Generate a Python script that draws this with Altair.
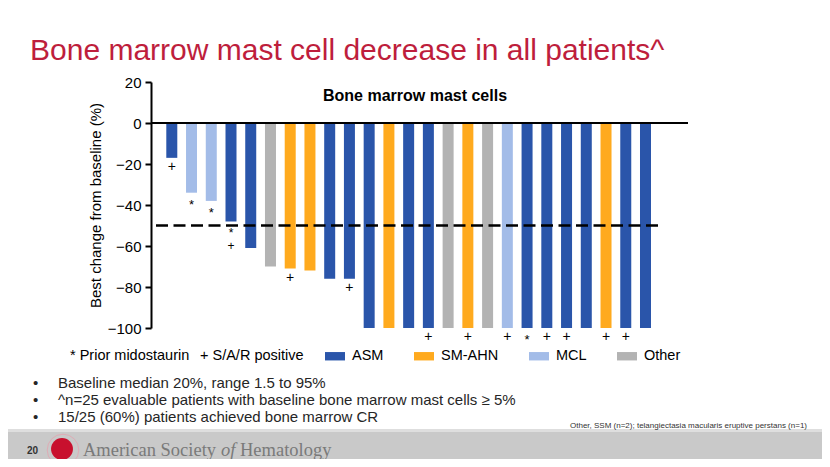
import altair as alt
import pandas as pd

# ---- data ----
patients = [1, 2, 3, 4, 5, 6, 7, 8, 9, 10, 11, 12, 13, 14, 15, 16, 17, 18, 19, 20, 21, 22, 23, 24, 25]
changes = [-17, -34, -38, -48, -61, -70, -71, -72, -76, -76,
           -100, -100, -100, -100, -100, -100, -100, -100, -100, -100,
           -100, -100, -100, -100, -100]
types = ["ASM", "MCL", "MCL", "ASM", "ASM", "Other", "SM-AHN", "SM-AHN", "ASM", "ASM",
         "ASM", "SM-AHN", "ASM", "ASM", "Other", "SM-AHN", "Other", "MCL", "ASM", "ASM",
         "ASM", "ASM", "SM-AHN", "ASM", "ASM"]
prior_midostaurin = [2, 3, 4, 19]          # "*"
sar_positive = [1, 4, 7, 10, 14, 16, 18, 20, 21, 23, 24]  # "+"
type_order = ["ASM", "SM-AHN", "MCL", "Other"]
type_colors = ["#2A55AA", "#FFAA1E", "#A3BCE8", "#B3B3B3"]
y_ticks = [20, 0, -20, -40, -60, -80, -100]
bullets = [
    "Baseline median 20%, range 1.5 to 95%",
    "^n=25 evaluable patients with baseline bone marrow mast cells \u2265 5%",
    "15/25 (60%) patients achieved bone marrow CR",
]
footnote = "Other, SSM (n=2); telangiectasia macularis eruptive perstans (n=1)"

FONT = "Liberation Sans, Arial, Helvetica, sans-serif"
SERIF = "Liberation Serif, DejaVu Serif, serif"

df = pd.DataFrame({"patient": patients, "change": changes, "type": types})
val = dict(zip(patients, changes))
star_only = [p for p in prior_midostaurin if p not in sar_positive]
plus_only = [p for p in sar_positive if p not in prior_midostaurin]
both = [p for p in prior_midostaurin if p in sar_positive]
stars = pd.DataFrame({"patient": star_only, "change": [val[p] for p in star_only]})
plus = pd.DataFrame({"patient": plus_only, "change": [val[p] for p in plus_only]})
combo = pd.DataFrame({"patient": both, "change": [val[p] for p in both],
                      "label": ["*\n+" for _ in both]})

xs = alt.Scale(domain=[0.2, 26.9], nice=False, zero=False)
ys = alt.Scale(domain=[-100, 20], nice=False)

bars = alt.Chart(df).mark_bar(size=11).encode(
    x=alt.X("patient:Q", scale=xs, axis=None),
    y=alt.Y("change:Q", scale=ys,
            axis=alt.Axis(values=y_ticks, title="Best change from baseline (%)",
                          titleFont=FONT, titleFontSize=15, titleFontWeight="normal",
                          titleColor="#000000", titlePadding=4,
                          labelFont=FONT, labelFontSize=15, labelColor="#000000",
                          labelPadding=4, tickSize=6, tickWidth=2, tickColor="#000000",
                          domainWidth=2, domainColor="#000000", grid=False)),
    color=alt.Color("type:N",
                    scale=alt.Scale(domain=type_order, range=type_colors),
                    legend=alt.Legend(orient="none", legendX=174, legendY=264,
                                      direction="horizontal", title=None,
                                      labelFont=FONT, labelFontSize=14.5, labelColor="#000000",
                                      symbolType="M-1,-0.42H1V0.42H-1Z", symbolSize=400,
                                      symbolStrokeWidth=0, symbolOpacity=1,
                                      labelOffset=7, columnPadding=30, padding=0)),
)

zero_line = alt.Chart(pd.DataFrame({"y": [0]})).mark_rule(color="#000000", strokeWidth=2).encode(
    y=alt.Y("y:Q", scale=ys))

cr_line = alt.Chart(pd.DataFrame({"x": [0.2], "x2": [25.8], "y": [-50]})).mark_rule(
    color="#000000", strokeWidth=2.5, strokeDash=[12, 5.5]).encode(
    x=alt.X("x:Q", scale=xs), x2="x2:Q", y=alt.Y("y:Q", scale=ys))

star_marks = alt.Chart(stars).mark_text(text="*", font=FONT, fontSize=13, baseline="middle",
                                        dy=12, color="#000000").encode(
    x=alt.X("patient:Q", scale=xs), y=alt.Y("change:Q", scale=ys))

plus_marks = alt.Chart(plus).mark_text(
    text="+", font=FONT, fontSize=14, baseline="middle", dy=9, color="#000000").encode(
    x=alt.X("patient:Q", scale=xs), y=alt.Y("change:Q", scale=ys))

combo_marks = alt.Chart(combo).mark_text(
    font=FONT, fontSize=12, baseline="top", dy=7, lineBreak="\n", lineHeight=13,
    color="#000000").encode(
    x=alt.X("patient:Q", scale=xs), y=alt.Y("change:Q", scale=ys), text="label:N")

one = pd.DataFrame({"a": [0]})


def label(text, x, y, size, color="#000000", weight="normal", align="left",
          font=FONT, style="normal", baseline="alphabetic"):
    return alt.Chart(one).mark_text(text=text, font=font, fontSize=size, color=color,
                                    fontWeight=weight, align=align, fontStyle=style,
                                    baseline=baseline).encode(
        x=alt.value(x), y=alt.value(y))


# page coords -> plot coords: x - 151, y - 82
title = label("Bone marrow mast cell decrease in all patients^", -121, -22, 30, color="#BE1E3C")
panel_title = label("Bone marrow mast cells", 264, 19, 16, weight="bold", align="center")
leg1 = label("* Prior midostaurin", -81, 278, 14.5)
leg2 = label("+ S/A/R positive", 49, 278, 14.5)

bullet_layers = []
for i, t in enumerate(bullets):
    yb = 305.5 + i * 17.3
    bullet_layers.append(label("\u2022", -118, yb, 15, color="#262626"))
    bullet_layers.append(label(t, -93, yb, 15, color="#262626"))

foot = label(footnote, 419, 345.5, 8, color="#333333")

band_top = alt.Chart(one).mark_rect(color="#DEDEDE").encode(
    x=alt.value(-143), x2=alt.value(671), y=alt.value(347), y2=alt.value(350))
band = alt.Chart(one).mark_rect(color="#C9C9C9").encode(
    x=alt.value(-143), x2=alt.value(671), y=alt.value(350), y2=alt.value(377))
page_no = label("20", -118.5, 371.5, 10, color="#333333", weight="bold", align="center")
logo_ring = alt.Chart(one).mark_point(shape="circle", size=1000, filled=False,
                                      color="#E8A0AE", strokeWidth=1).encode(
    x=alt.value(-88), y=alt.value(368))
logo = alt.Chart(one).mark_point(shape="circle", size=480, filled=True, opacity=1,
                                 color="#C8102E").encode(
    x=alt.value(-89), y=alt.value(367))
org1 = label("American Society", -68, 374, 18.5, color="#7A7A7A", font=SERIF)
org2 = label("of", 70, 374, 18.5, color="#7A7A7A", font=SERIF, style="italic")
org3 = label("Hematology", 89, 374, 18.5, color="#7A7A7A", font=SERIF)

chart = alt.layer(
    band_top, band, bars, zero_line, cr_line, star_marks, plus_marks, combo_marks,
    title, panel_title, leg1, leg2, *bullet_layers, foot, page_no, logo_ring, logo,
    org1, org2, org3,
).properties(
    width=537, height=246,
    autosize=alt.AutoSizeParams(type="none"),
    padding={"left": 143, "top": 74, "right": 134, "bottom": 131},
    background="#FFFFFF",
).configure_view(stroke=None)

chart.save("out.html", embed_options={"renderer": "svg", "actions": False})
